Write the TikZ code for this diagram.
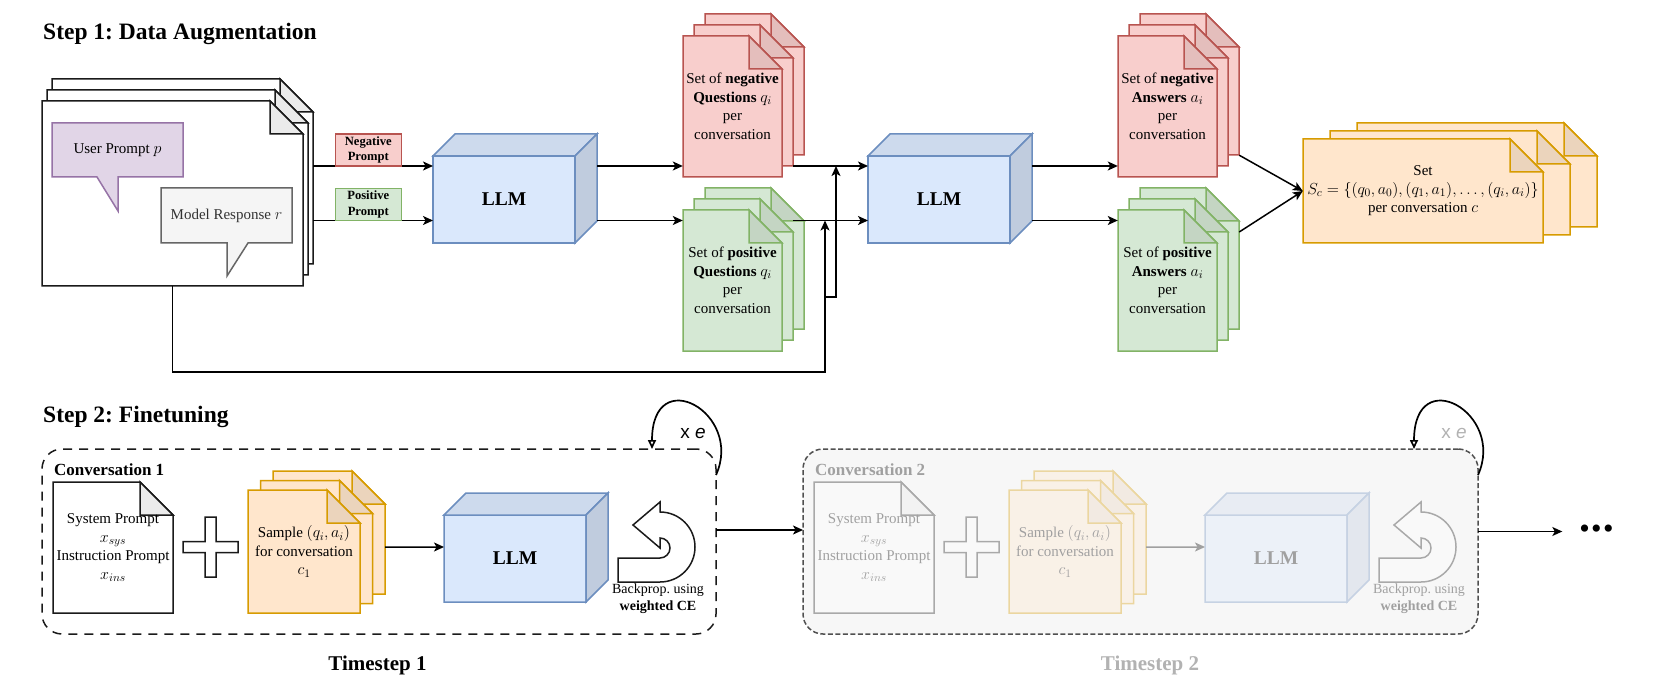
\documentclass[tikz,border=0pt]{standalone}
\usepackage{fix-cm}
\usepackage[no-math]{fontspec}
\setmainfont{Liberation Serif}
\newfontfamily\xefont{Liberation Sans}
\usepackage{amsmath}
\usepackage{xcolor}
\usetikzlibrary{positioning}
\usetikzlibrary{arrows.meta}
\usetikzlibrary{calc}
\DeclareMathSizes{15}{16}{11.5}{9}

\definecolor{negfill}{HTML}{F8CECC}
\definecolor{negline}{HTML}{B85450}
\definecolor{posfill}{HTML}{D5E8D4}
\definecolor{posline}{HTML}{82B366}
\definecolor{setfill}{HTML}{FFE6CC}
\definecolor{setline}{HTML}{D79B00}
\definecolor{llmfill}{HTML}{DAE8FC}
\definecolor{llmline}{HTML}{6C8EBF}
\definecolor{userfill}{HTML}{E1D5E7}
\definecolor{userline}{HTML}{9673A6}
\definecolor{respfill}{HTML}{F5F5F5}
\definecolor{respline}{HTML}{666666}
\definecolor{resptext}{HTML}{333333}
\colorlet{convfill}{white}
\definecolor{convline}{HTML}{1A1A1A}
\definecolor{boxfill}{HTML}{F7F7F7}
\definecolor{boxline}{HTML}{505050}

\newcommand{\bodyfont}{\fontsize{15}{18.5}\selectfont}
\newcommand{\titlefont}{\bfseries\fontsize{23.5}{28}\selectfont}
\newcommand{\tagfont}{\bfseries\fontsize{12.6}{15.5}\selectfont}
\newcommand{\llmfont}{\bfseries\fontsize{19.5}{22}\selectfont}
\newcommand{\convfont}{\bfseries\fontsize{17}{20}\selectfont}
\newcommand{\tsfont}{\bfseries\fontsize{21}{25}\selectfont}
\newcommand{\bpfont}{\fontsize{14}{17}\selectfont}
\newcommand{\morefont}{\fontsize{30}{30}\selectfont}

\tikzset{
  flow/.style={-{Stealth[length=10pt,width=9pt,inset=2.5pt]}, line width=1.5pt},
  looparrow/.style={-{Triangle[open,length=9pt,width=8pt]}, line width=1.7pt},
  pageline/.style={line width=1.5pt},
  pagetext/.style={align=center, inner sep=0pt, font=\bodyfont},
  bubbleline/.style={line width=1.5pt},
  tagbox/.style={line width=1.5pt, minimum width=66, minimum height=32, inner sep=0pt, outer sep=0pt, align=center, font=\tagfont},
  llmbox/.style={draw=llmline, fill=llmfill, line width=1.5pt, minimum width=142, minimum height=87, outer sep=0pt, font=\llmfont},
  llmtop/.style={draw=llmline, fill=llmfill!94!black, line width=1.5pt},
  llmside/.style={draw=llmline, fill=llmfill!88!black, line width=1.5pt},
  steptitle/.style={anchor=base west, inner sep=0pt, font=\titlefont},
  convlabel/.style={anchor=base west, inner sep=0pt, font=\convfont},
  convbox/.style={draw=convline, dash pattern=on 9pt off 7pt, line width=1.5pt, rounded corners=20pt, minimum height=185, outer sep=0pt},
  tslabel/.style={anchor=base, inner sep=0pt, font=\tsfont},
  xelabel/.style={font={\xefont\fontsize{19}{20}\selectfont}},
  bptext/.style={align=center, inner sep=0pt, font=\bpfont},
}

% folded page: name, left, top, width, height, colour, text
\newcommand{\notepage}[7]{%
  \filldraw[fill=#6fill, draw=#6line, pageline] (#2,#3) -- ++(#4-33,0) -- ++(33,33) -- ++(0,#5-33) -- ++(-#4,0) -- cycle;
  \filldraw[fill=#6fill!92!black, draw=#6line, pageline] (#2+#4-33,#3) -- ++(33,33) -- ++(-33,0) -- cycle;
  \node[pagetext, minimum width=#4, minimum height=#5] (#1) at (#2+#4/2,#3+#5/2) {#7};
}
% three pages: name, left, top, width, height, dx, dy, colour, text
\newcommand{\pagestack}[9]{%
  \notepage{#1-c}{#2+2*#6}{#3-2*#7}{#4}{#5}{#8}{}%
  \notepage{#1-b}{#2+#6}{#3-#7}{#4}{#5}{#8}{}%
  \notepage{#1}{#2}{#3}{#4}{#5}{#8}{#9}%
}
% cube: name, centre of front face
\newcommand{\llmcube}[2]{%
  \node[llmbox] (#1) at (#2) {LLM};
  \filldraw[llmtop] (#1.north west) -- ++(22,-22) -- ++(142,0) -- (#1.north east) -- cycle;
  \filldraw[llmside] (#1.north east) -- ++(22,-22) -- ++(0,87) -- (#1.south east) -- cycle;
  \coordinate (#1-r) at ([xshift=22pt]#1.east);
}

\begin{document}
\frenchspacing
\begin{tikzpicture}[x=1pt, y=-1pt]
  \useasboundingbox (0,0) rectangle (1661,692);

  % Step 1: data augmentation
  \node[steptitle] (title1) at (43,40) {Step 1: Data Augmentation};

  \pagestack{conv}{42}{101}{261}{185}{5}{11}{conv}{}
  \filldraw[fill=userfill, draw=userline, bubbleline] (52,123) -- (183,123) -- (183,177) -- (118,177) -- (118,211) -- (97,177) -- (52,177) -- cycle;
  \node[font=\bodyfont] (user) at (117.5,150) {User Prompt $p$};
  \filldraw[fill=respfill, draw=respline, bubbleline] (161,188) -- (292,188) -- (292,243) -- (248,243) -- (227,276) -- (227,243) -- (161,243) -- cycle;
  \node[font=\bodyfont, text=resptext] (resp) at (226.5,215.5) {Model Response $r$};

  \llmcube{llm1}{504,199.5}
  \llmcube{llm2}{939,199.5}

  \pagestack{negq}{683}{36}{99}{141}{11}{11}{neg}{Set of \textbf{negative}\\\textbf{Questions} $q_i$\\per\\conversation}
  \pagestack{posq}{683}{210}{99}{141}{11}{11}{pos}{Set of \textbf{positive}\\\textbf{Questions} $q_i$\\per\\conversation}
  \pagestack{nega}{1118}{36}{99}{141}{11}{11}{neg}{Set of \textbf{negative}\\\textbf{Answers} $a_i$\\per\\conversation}
  \pagestack{posa}{1118}{210}{99}{141}{11}{11}{pos}{Set of \textbf{positive}\\\textbf{Answers} $a_i$\\per\\conversation}
  \pagestack{set}{1303}{139}{240}{104}{27}{8}{set}{Set\\$S_c=\{(q_0,a_0),(q_1,a_1),\ldots,(q_i,a_i)\}$\\per conversation $c$}

  \draw[flow] (conv-c.east |- 0,166) -- node[tagbox, pos=0.46, anchor=south, fill=negfill, draw=negline] (negp) {Negative\\Prompt} (llm1.west |- 0,166);
  \draw[flow] (conv-c.east |- 0,220.5) -- node[tagbox, pos=0.46, anchor=south, fill=posfill, draw=posline] (posp) {Positive\\Prompt} (llm1.west |- 0,220.5);
  \draw[flow] (llm1-r |- negp.south) -- (negq.west |- negp.south);
  \draw[flow] (llm1-r |- posp.south) -- (posq.west |- posp.south);
  \draw[flow] (negq-b.east |- negp.south) -- (llm2.west |- negp.south);
  \draw[flow] (posq-b.east |- posp.south) -- (llm2.west |- posp.south);
  \draw[flow] (llm2-r |- negp.south) -- (nega.west |- negp.south);
  \draw[flow] (llm2-r |- posp.south) -- (posa.west |- posp.south);
  \draw[flow] (nega-c.south east) -- (set.west);
  \draw[flow] ([yshift=26.5pt]posa-c.east) -- (set.west);

  \coordinate (route) at (825,372);
  \coordinate (fork) at (825,297);
  \coordinate (fork2) at (836,297);
  \draw[flow] (conv.south) |- (route) -- (route |- posp.south);
  \draw[flow] (fork) -- (fork2) -- (fork2 |- negp.south);

  % Step 2: finetuning
  \node[steptitle] (title2) at (43,422) {Step 2: Finetuning};
  \node[convbox, minimum width=674] (box1) at (379,541.5) {};
  \node[convbox, minimum width=675, draw=boxline, fill=boxfill, dash pattern=on 5pt off 2.5pt] (box2) at (1140.5,541.5) {};

  \foreach \i/\dx/\op/\xc in {1/0/1/black, 2/761/0.35/black!30} {
    \begin{scope}[xshift=\dx, transparency group, opacity=\op]
      \node[convlabel] (clabel\i) at (54,475) {Conversation \i};
      \notepage{sys\i}{53}{482}{120}{131}{conv}{System Prompt\\$x_{sys}$\\Instruction Prompt\\$x_{ins}$}
      \filldraw[fill=white, draw=convline, pageline] (205,517) -- (216,517) -- (216,541.5) -- (238,541.5) -- (238,552.5) -- (216,552.5) -- (216,577) -- (205,577) -- (205,552.5) -- (183,552.5) -- (183,541.5) -- (205,541.5) -- cycle;
      \pagestack{sample\i}{248}{490}{112}{123}{12.5}{9.5}{set}{Sample $(q_i,a_i)$\\for conversation\\$c_1$}
      \llmcube{llm\i x}{515,558.5}
      \draw[flow] (sample\i-c.east |- 0,547) -- (llm\i x.west |- 0,547);
      \filldraw[fill=white, draw=convline, pageline] (618,558) -- (660,558) arc[start angle=-90, end angle=90, radius=10pt] -- (660,548) -- (633,525) -- (660,502) -- (660,512) arc[start angle=90, end angle=-90, radius=35pt] -- (618,582) -- cycle;
      \node[bptext] (bp\i) at (658,598.5) {Backprop. using\\\textbf{weighted CE}};
    \end{scope}
    \draw[looparrow] ([yshift=66.5pt]box\i.east) .. controls +(28,-62) and +(0,-87) .. ([xshift=-64pt]box\i.north east);
    \node[xelabel, text=\xc] (xe\i) at (693+\dx,433) {x \textit{e}};
  }

  \node[tslabel] (ts1) at (377.5,670) {Timestep 1};
  \node[tslabel, text=black!30] (ts2) at (1150,670) {Timestep 2};

  \node[font=\morefont, minimum width=68, inner sep=0pt] (more) at (1596.5,531.5) {\textbullet\kern1.5pt\textbullet\kern1.5pt\textbullet};
  \draw[flow] ([yshift=11.5pt]box1.east) -- ([yshift=11.5pt]box2.west);
  \draw[flow] (box2.east |- more.west) -- (more.west);
\end{tikzpicture}
\end{document}
